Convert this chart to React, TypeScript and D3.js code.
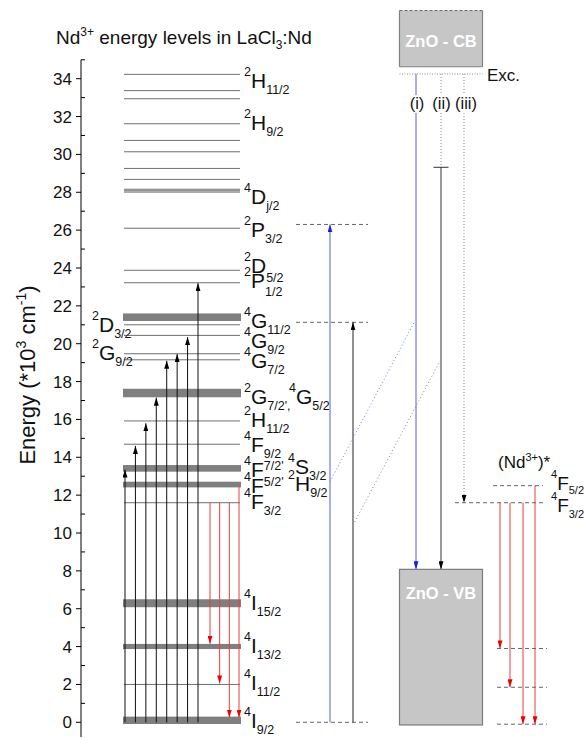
import React from "react";
import * as d3 from "d3";

// ---------------- data ----------------
const majorTicks = [0, 2, 4, 6, 8, 10, 12, 14, 16, 18, 20, 22, 24, 26, 28, 30, 32, 34];
const minorTicks = [1, 3, 5, 7, 9, 11, 13, 15, 17, 19, 21, 23, 25, 27, 29, 31, 33, 35];

// thin Nd3+ levels (10^3 cm^-1)
const thinLevels = [34.23, 33.37, 32.94, 31.62, 30.74, 30.14, 29.26, 28.68, 28.16, 28.08, 28.01,
  26.1, 23.88, 23.22, 21.0, 20.44, 19.47, 19.15, 15.92, 14.69, 11.6, 2.0];
// broad (band) levels: low / high edges
const bandLow = [21.2, 17.17, 13.24, 12.41, 6.08, 3.87, -0.09];
const bandHigh = [21.6, 17.62, 13.59, 12.71, 6.5, 4.14, 0.3];

// absorption arrows from ground state
const absorptionTops = [13.35, 14.6, 15.8, 17.15, 19.1, 19.45, 20.35, 23.2];
// emission arrows
const emissionFrom = [11.6, 11.6, 11.6, 12.45];
const emissionTo = [4.15, 2.05, 0.25, 0.25];

// ZnO section
const cbTop = 37.6, cbBottom = 34.63, excLevel = 34.25, vbTop = 8.08, vbBottom = -0.14;
const transferTops = [26.3, 21.13];
const pathIIStop = 29.32;
const crossFrom = [12.71, 10.42];
const crossTo = [21.21, 19.09];
const pathNames = ["(i)", "(ii)", "(iii)"];

// (Nd3+)* section
const ndStarLevels = [12.5, 11.6];
const ndFinalLevels = [3.9, 1.85, -0.1];
const ndEmissionFrom = [11.6, 11.6, 11.6, 12.5];
const ndEmissionTo = [3.9, 1.85, -0.1, -0.1];

type Part = [string, string, number?];
const rightLabels: { parts: Part[]; e: number; dy: number; x?: number }[] = [
  { parts: [["^", "2"], ["", "H"], ["_", "11/2"]], e: 34.23, dy: 14 },
  { parts: [["^", "2"], ["", "H"], ["_", "9/2"]], e: 31.62, dy: 6 },
  { parts: [["^", "4"], ["", "D"], ["_", "j/2"]], e: 28.08, dy: 13 },
  { parts: [["^", "2"], ["", "P"], ["_", "3/2"]], e: 26.1, dy: 9 },
  { parts: [["^", "2"], ["", "D"], ["_", "5/2", 9]], e: 23.88, dy: 3 },
  { parts: [["^", "2"], ["", "P"], ["_", "1/2", 8]], e: 23.22, dy: 5 },
  { parts: [["^", "4"], ["", "G"], ["_", "11/2"]], e: 21.4, dy: 11 },
  { parts: [["^", "4"], ["", "G"], ["_", "9/2"]], e: 20.44, dy: 13 },
  { parts: [["^", "4"], ["", "G"], ["_", "7/2"]], e: 19.15, dy: 8 },
  { parts: [["^", "2"], ["", "G"], ["_", "7/2', "]], e: 17.4, dy: 11 },
  { parts: [["^", "4"], ["", "G"], ["_", "5/2"]], e: 17.4, dy: 11, x: 289 },
  { parts: [["^", "2"], ["", "H"], ["_", "11/2"]], e: 15.92, dy: 6 },
  { parts: [["^", "4"], ["", "F"], ["_", "9/2"]], e: 14.69, dy: 8 },
  { parts: [["^", "4"], ["", "F"], ["_", "7/2'", -7]], e: 13.42, dy: 9 },
  { parts: [["^", "4"], ["", "S"], ["_", "3/2"]], e: 13.42, dy: 6, x: 288 },
  { parts: [["^", "4"], ["", "F"], ["_", "5/2'", -7]], e: 12.56, dy: 8 },
  { parts: [["^", "2"], ["", "H"], ["_", "9/2"]], e: 12.56, dy: 6, x: 288 },
  { parts: [["^", "4"], ["", "F"], ["_", "3/2"]], e: 11.6, dy: 6 },
  { parts: [["^", "4"], ["", "I"], ["_", "15/2"]], e: 6.29, dy: 7 },
  { parts: [["^", "4"], ["", "I"], ["_", "13/2"]], e: 4.0, dy: 6 },
  { parts: [["^", "4"], ["", "I"], ["_", "11/2"]], e: 2.0, dy: 6 },
  { parts: [["^", "4"], ["", "I"], ["_", "9/2"]], e: 0.1, dy: 8 },
];
const leftLabels: { parts: Part[]; e: number; dy: number }[] = [
  { parts: [["^", "2"], ["", "D"], ["_", "3/2"]], e: 21.0, dy: 7 },
  { parts: [["^", "2"], ["", "G"], ["_", "9/2"]], e: 19.47, dy: 6 },
];
const ndStarLabels: { parts: Part[]; e: number; dy: number }[] = [
  { parts: [["^", "4"], ["", "F"], ["_", "5/2", 4]], e: 12.5, dy: 4 },
  { parts: [["^", "4"], ["", "F"], ["_", "3/2"]], e: 11.6, dy: 9 },
];

// ---------------- layout ----------------
const FONT = "Arial, 'Liberation Sans', Helvetica, sans-serif";
const y = d3.scaleLinear().domain([0, 34]).range([722.3, 78.7]);
const axisX = 81;
const levelX0 = 124, levelX1 = 240;
const absX = d3.scalePoint<number>().domain(absorptionTops.map((_, i) => i)).range([125, 198]);
const emX = d3.scalePoint<number>().domain(emissionFrom.map((_, i) => i)).range([210, 239]);
const midX0 = 296, midX1 = 368;
const transferX = [330, 353];
const boxX0 = 399.5, boxX1 = 482.5;
const pathX = [416, 441, 464];
const pathLabelX = [417, 441.5, 466];
const ndArrowX = [500, 510, 523, 535];

const LEVEL_COLOR = "#6f6f6f";
const BAND_COLOR = "#7f7f7f";
const BLUE = "#5a5ae8";
const RED = "#f03a3a";

function Label({ x, yb, parts, size = 21, sub = 12.5 }: { x: number; yb: number; parts: Part[]; size?: number; sub?: number }) {
  let cur = 0;
  const spans = parts.map(([k, t, s], i) => {
    const target = s !== undefined ? s : k === "^" ? -12 : k === "_" ? 6 : 0;
    const dy = target - cur;
    cur = target;
    const fs = k === "" ? size : sub;
    return (
      <tspan key={i} dy={dy} fontSize={fs}>
        {t}
      </tspan>
    );
  });
  return (
    <text x={x} y={yb} fontSize={size} fontFamily={FONT} fill="#111" style={{ whiteSpace: "pre" }}>
      {spans}
    </text>
  );
}

export default function App() {
  const yAxisBottom = 737;
  return (
    <svg width={585} height={738} style={{ position: "absolute", left: 0, top: 0, background: "#fff" }}>
      <defs>
        <marker id="ahBlack" viewBox="0 0 8 5" refX={8} refY={2.5} markerWidth={8} markerHeight={5} markerUnits="userSpaceOnUse" orient="auto">
          <path d="M0,0 L8,2.5 L0,5 z" fill="#000" />
        </marker>
        <marker id="ahBlue" viewBox="0 0 8 5" refX={8} refY={2.5} markerWidth={8} markerHeight={5} markerUnits="userSpaceOnUse" orient="auto">
          <path d="M0,0 L8,2.5 L0,5 z" fill="#1a1ae0" />
        </marker>
        <marker id="ahRed" viewBox="0 0 8 5" refX={8} refY={2.5} markerWidth={8} markerHeight={5} markerUnits="userSpaceOnUse" orient="auto">
          <path d="M0,0 L8,2.5 L0,5 z" fill="#ee0000" />
        </marker>
      </defs>

      {/* Title */}
      <text x={56} y={44} fontSize={19} fontFamily={FONT} fill="#111">
        Nd<tspan dy={-8} fontSize={12}>3+</tspan>
        <tspan dy={8}> energy levels in LaCl</tspan>
        <tspan dy={5} fontSize={12}>3</tspan>
        <tspan dy={-5}>:Nd</tspan>
      </text>

      {/* Y axis */}
      <line x1={axisX} x2={axisX} y1={y(35)} y2={yAxisBottom} stroke="#000" strokeWidth={1} />
      {majorTicks.map((t) => (
        <g key={"M" + t}>
          <line x1={axisX - 5} x2={axisX} y1={y(t)} y2={y(t)} stroke="#000" />
          <text x={72} y={y(t) + 6} textAnchor="end" fontSize={17} fontFamily={FONT} fill="#111">
            {t}
          </text>
        </g>
      ))}
      {minorTicks.map((t) => (
        <line key={"m" + t} x1={axisX} x2={axisX + 4} y1={y(t)} y2={y(t)} stroke="#000" />
      ))}
      <text transform={`translate(35,375) rotate(-90)`} textAnchor="middle" fontSize={22} fontFamily={FONT} fill="#111">
        Energy (*10<tspan dy={-9} fontSize={14}>3</tspan>
        <tspan dy={9}> cm</tspan>
        <tspan dy={-9} fontSize={14}>-1</tspan>
        <tspan dy={9}>)</tspan>
      </text>

      {/* Nd levels */}
      {thinLevels.map((e, i) => (
        <line key={"l" + i} x1={levelX0} x2={levelX1} y1={y(e)} y2={y(e)} stroke={LEVEL_COLOR} strokeWidth={1} />
      ))}
      {bandLow.map((lo, i) => (
        <rect key={"b" + i} x={levelX0 - 1} width={levelX1 - levelX0 + 2} y={y(bandHigh[i])} height={y(lo) - y(bandHigh[i])} fill={BAND_COLOR} />
      ))}

      {/* absorption arrows */}
      {absorptionTops.map((e, i) => (
        <line key={"a" + i} x1={absX(i)} x2={absX(i)} y1={y(0)} y2={y(e)} stroke="#111" strokeWidth={1} markerEnd="url(#ahBlack)" />
      ))}
      {/* emission arrows */}
      {emissionFrom.map((e, i) => (
        <line key={"r" + i} x1={emX(i)} x2={emX(i)} y1={y(e)} y2={y(emissionTo[i])} stroke={RED} strokeWidth={1} markerEnd="url(#ahRed)" />
      ))}

      {/* level labels */}
      {rightLabels.map((l, i) => (
        <Label key={"rl" + i} x={l.x ?? 244} yb={y(l.e) + l.dy} parts={l.parts} />
      ))}
      {leftLabels.map((l, i) => (
        <Label key={"ll" + i} x={92} yb={y(l.e) + l.dy} parts={l.parts} />
      ))}

      {/* middle section: transfer levels */}
      {[...transferTops, 0].map((e, i) => (
        <line key={"md" + i} x1={midX0} x2={midX1} y1={y(e)} y2={y(e)} stroke="#666" strokeDasharray="4,3" />
      ))}
      <line x1={transferX[0]} x2={transferX[0]} y1={y(0)} y2={y(transferTops[0])} stroke={BLUE} markerEnd="url(#ahBlue)" />
      <line x1={transferX[1]} x2={transferX[1]} y1={y(0)} y2={y(transferTops[1])} stroke="#222" markerEnd="url(#ahBlack)" />

      {/* cross-relaxation dotted links */}
      <line x1={transferX[0]} y1={y(crossFrom[0])} x2={pathX[0] - 1} y2={y(crossTo[0])} stroke="#7a7ae0" strokeDasharray="1,2.5" />
      <line x1={transferX[1]} y1={y(crossFrom[1])} x2={pathX[1] - 1} y2={y(crossTo[1])} stroke="#888" strokeDasharray="1,2.5" />

      {/* ZnO CB box */}
      <rect x={boxX0} y={y(cbTop)} width={boxX1 - boxX0} height={y(cbBottom) - y(cbTop)} fill="#c6c6c6" stroke="none" />
      <line x1={boxX0} x2={boxX0} y1={y(cbTop)} y2={y(cbBottom)} stroke="#808080" strokeWidth={1.2} />
      <line x1={boxX1} x2={boxX1} y1={y(cbTop)} y2={y(cbBottom)} stroke="#808080" strokeWidth={1.2} />
      <line x1={boxX0} x2={boxX1} y1={y(cbBottom)} y2={y(cbBottom)} stroke="#808080" strokeWidth={1.2} />
      <line x1={boxX0} x2={boxX1} y1={y(cbTop)} y2={y(cbTop)} stroke="#666" strokeWidth={1} strokeDasharray="3,2" />
      <text x={(boxX0 + boxX1) / 2} y={y(cbTop) + 36} textAnchor="middle" fontSize={16.5} fontWeight="bold" fontFamily={FONT} fill="#fff">
        ZnO - CB
      </text>

      {/* excitation level */}
      <line x1={boxX0} x2={boxX1} y1={y(excLevel)} y2={y(excLevel)} stroke="#888" strokeDasharray="1,1.5" />
      <text x={487} y={y(excLevel) + 7} fontSize={17} fontFamily={FONT} fill="#111">
        Exc.
      </text>

      {/* path (i) */}
      <line x1={pathX[0]} x2={pathX[0]} y1={y(excLevel)} y2={y(vbTop)} stroke={BLUE} markerEnd="url(#ahBlue)" />
      {/* path (ii) */}
      <line x1={pathX[1]} x2={pathX[1]} y1={y(excLevel)} y2={y(pathIIStop)} stroke="#888" strokeDasharray="1,2" />
      <line x1={pathX[1] - 7.5} x2={pathX[1] + 7.5} y1={y(pathIIStop)} y2={y(pathIIStop)} stroke="#333" />
      <line x1={pathX[1]} x2={pathX[1]} y1={y(pathIIStop)} y2={y(vbTop)} stroke="#333" markerEnd="url(#ahBlack)" />
      {/* path (iii) */}
      <line x1={pathX[2]} x2={pathX[2]} y1={y(excLevel)} y2={y(ndStarLevels[1])} stroke="#888" strokeDasharray="1,2" markerEnd="url(#ahBlack)" />

      {pathNames.map((t, i) => (
        <g key={"p" + i}>
          <rect x={pathX[i] - 3} y={y(excLevel) + 21} width={6} height={18} fill="#fff" />
          <text x={pathLabelX[i]} y={y(excLevel) + 35} textAnchor="middle" fontSize={16.5} fontFamily={FONT} fill="#111">
            {t}
          </text>
        </g>
      ))}

      {/* ZnO VB box */}
      <rect x={boxX0} y={y(vbTop)} width={boxX1 - boxX0} height={y(vbBottom) - y(vbTop)} fill="#c6c6c6" stroke="#7a7a7a" strokeWidth={1.2} />
      <text x={(boxX0 + boxX1) / 2} y={y(vbTop) + 30} textAnchor="middle" fontSize={16.5} fontWeight="bold" fontFamily={FONT} fill="#fff">
        ZnO - VB
      </text>

      {/* (Nd3+)* section */}
      <text x={498} y={y(ndStarLevels[0]) - 18} fontSize={17} fontFamily={FONT} fill="#111">
        (Nd<tspan dy={-7} fontSize={11}>3+</tspan>
        <tspan dy={7}>)*</tspan>
      </text>
      <line x1={493} x2={543} y1={y(ndStarLevels[0])} y2={y(ndStarLevels[0])} stroke="#666" strokeDasharray="4,3" />
      <line x1={455} x2={543} y1={y(ndStarLevels[1])} y2={y(ndStarLevels[1])} stroke="#666" strokeDasharray="4,3" />
      {ndFinalLevels.map((e, i) => (
        <line key={"nf" + i} x1={497} x2={547} y1={y(e)} y2={y(e)} stroke="#666" strokeDasharray="4,3" />
      ))}
      {ndEmissionFrom.map((e, i) => (
        <line key={"ne" + i} x1={ndArrowX[i]} x2={ndArrowX[i]} y1={y(e)} y2={y(ndEmissionTo[i])} stroke={RED} markerEnd="url(#ahRed)" />
      ))}
      {ndStarLabels.map((l, i) => (
        <Label key={"nl" + i} x={551} yb={y(l.e) + l.dy} parts={l.parts} size={19} sub={11} />
      ))}
    </svg>
  );
}
